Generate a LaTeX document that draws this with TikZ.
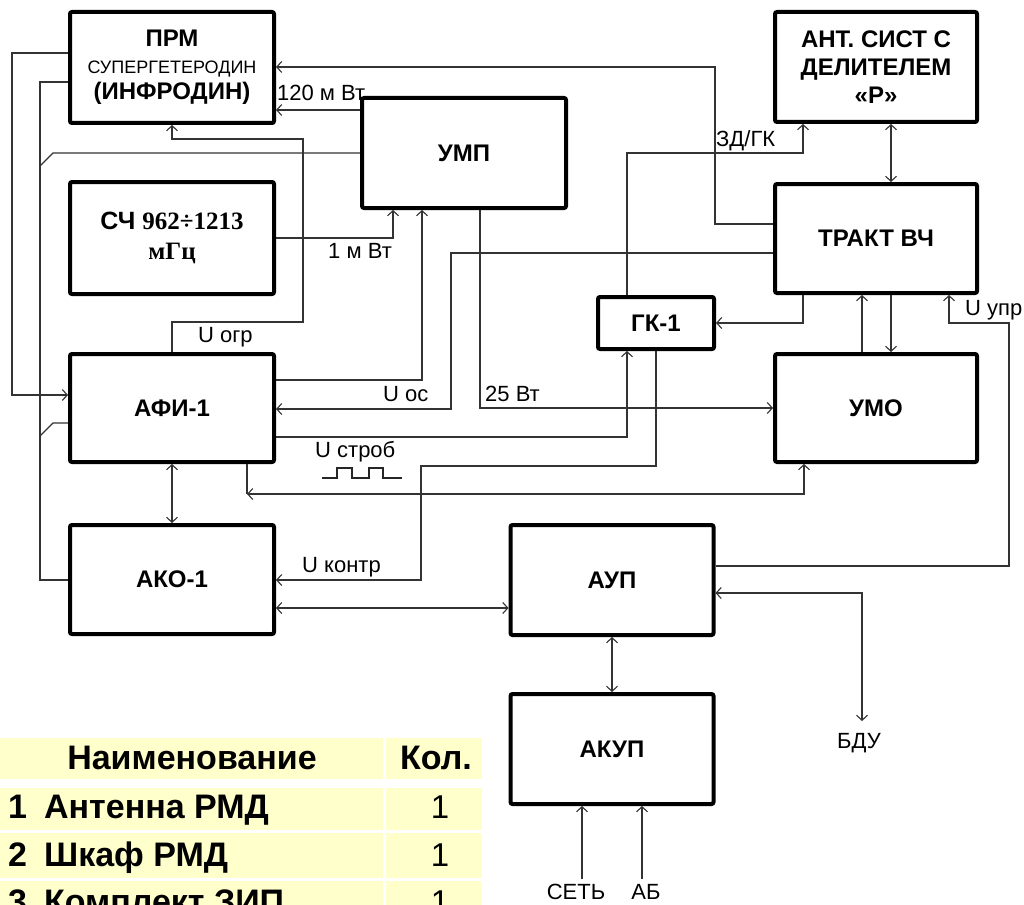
\documentclass[tikz,border=0pt]{standalone}
\usepackage{fontspec}
\setmainfont{Liberation Sans}
\newfontfamily\timesf{Liberation Serif}
\usetikzlibrary{arrows.meta}
\definecolor{tabfill}{HTML}{FFFFCC}

\begin{document}
\begin{tikzpicture}[
  x=1pt, y=-1pt,
  blk/.style={draw, line width=4pt, rounded corners=2pt, minimum width=204pt, minimum height=110pt, align=center, font=\bfseries\fontsize{24}{28}\selectfont},
  ln/.style={draw=black!80, line width=1.1pt},
  arr/.style={ln, -{Straight Barb[length=5pt,width=11pt]}},
  biarr/.style={ln, {Straight Barb[length=5pt,width=11pt]}-{Straight Barb[length=5pt,width=11pt]}},
  lbl/.style={font=\fontsize{22}{24}\selectfont, inner sep=0pt, anchor=base west},
  tabcell/.style={fill=tabfill, inner sep=0pt, anchor=north west},
  tabtxt/.style={font=\bfseries\fontsize{34}{34}\selectfont, inner sep=0pt, anchor=base west}
]
\useasboundingbox (0,0) rectangle (1024,904);
\clip (0,0) rectangle (1024,904);
\fill[white] (0,0) rectangle (1024,904);

% blocks
\node[blk, minimum height=111pt, font=\bfseries\fontsize{24}{26.5}\selectfont] (prm) at (172,67.5)
  {ПРМ\\{\mdseries\fontsize{18}{26.5}\selectfont СУПЕРГЕТЕРОДИН}\\(ИНФРОДИН)};
\node[blk, minimum height=112pt, font=\bfseries\fontsize{25}{30}\selectfont] (sch) at (172,238)
  {СЧ {\timesf 962÷1213}\\{\timesf мГц}};
\node[blk] (ump) at (464,153) {УМП};
\node[blk, minimum width=202pt] (ant) at (876,67) {АНТ. СИСТ С\\ДЕЛИТЕЛЕМ\\«Р»};
\node[blk, minimum width=202pt, minimum height=109pt] (trakt) at (876,238.5) {ТРАКТ ВЧ};
\node[blk, minimum width=116pt, minimum height=52pt] (gk) at (656,323) {ГК-1};
\node[blk, minimum height=108pt] (afi) at (172,408) {АФИ-1};
\node[blk, minimum width=202pt, minimum height=108pt] (umo) at (876,408) {УМО};
\node[blk, minimum height=109pt] (ako) at (172,579.5) {АКО-1};
\node[blk, minimum width=203pt] (aup) at (612,580) {АУП};
\node[blk, minimum width=203pt] (akup) at (612,749) {АКУП};

% connectors on the left
\draw[arr] (prm.west |- 0,53) -| (12,395) -- (afi.west |- 0,395);
\draw[ln] (prm.west |- 0,82) -| (40,580) -- (ako.west |- 0,580);
\draw[ln] (ump.west |- 0,153) -- (53,153) -- (40,166);
\draw[ln] (afi.west |- 0,423) -- (53,423) -- (40,436);
\draw[arr] (trakt.west |- 0,224) -| (715,67) -- (prm.east |- 0,67);
\draw[arr] (ump.west |- 0,110) -- (prm.east |- 0,110);
\draw[arr] (afi.north) |- (303,322) |- (172,139) -- (prm.south);
\draw[arr] (sch.east |- 0,238) -| (ump.south -| 393,0);
\draw[arr] (afi.east |- 0,380) -| (ump.south -| 422,0);
\draw[arr] (trakt.west |- 0,253) -| (451,409) -- (afi.east |- 0,409);
\draw[arr] (ump.south -| 480,0) |- (umo.west |- 0,408);
\draw[arr] (afi.east |- 0,437) -| (gk.south -| 627,0);
\draw[arr] (gk.south -| 656,0) |- (421,466) |- (ako.east |- 0,580);
\draw[ln] (afi.south -| 247,0) -- (247,494);
\draw[biarr] (247,494) -| (umo.south -| 804,0);
\draw[biarr] (afi.south) -- (ako.north);
\draw[biarr] (ako.east |- 0,608) -- (aup.west |- 0,608);

% connectors on the right
\draw[arr] (trakt.south -| 803,0) |- (gk.east |- 0,323);
\draw[arr] (gk.north -| 627,0) |- (803,153) -- (ant.south -| 803,0);
\draw[biarr] (ant.south -| 891,0) -- (trakt.north -| 891,0);
\draw[arr] (umo.north -| 862,0) -- (trakt.south -| 862,0);
\draw[arr] (trakt.south -| 891,0) -- (umo.north -| 891,0);
\draw[arr] (aup.east |- 0,566) -| (1009,323) -| (trakt.south -| 949,0);
\coordinate (bdu) at (862,721);
\draw[biarr] (aup.east |- 0,593) -| (bdu);
\draw[biarr] (aup.south) -- (akup.north);
\coordinate (set) at (582,879);
\coordinate (ab) at (642,879);
\draw[arr] (set) -- (akup.south -| set);
\draw[arr] (ab) -- (akup.south -| ab);

% labels
\node[lbl] (l120) at (277,101) {120 м Вт};
\node[lbl] (l1) at (328,258) {1 м Вт};
\node[lbl] (logr) at (198,342) {U огр};
\node[lbl] (los) at (383,401) {U ос};
\node[lbl] (l25) at (485,401) {25 Вт};
\node[lbl] (lstr) at (315,457) {U строб};
\node[lbl] (lkontr) at (302,572) {U контр};
\node[lbl] (lzd) at (716,147) {ЗД/ГК};
\node[lbl] (lupr) at (965,315) {U упр};
\node[lbl, anchor=base] (lbdu) at (859,748) {БДУ};
\node[lbl, anchor=base] (lset) at (576,899) {СЕТЬ};
\node[lbl, anchor=base] (lab) at (646,899) {АБ};
% strobe pulses
\draw[black!85, line width=2pt] (322,478) -- (337,478) -- (337,468) -- (352,468) -- (352,478)
  -- (369,478) -- (369,468) -- (383,468) -- (383,478) -- (402,478);

% table
\node[tabcell, minimum width=383pt, minimum height=41pt] (th1) at (0,738) {};
\node[tabcell, minimum width=96pt, minimum height=41pt] (th2) at (386,738) {};
\foreach \r/\y/\h in {1/788/42, 2/833/45, 3/881/45}{
  \node[tabcell, minimum width=383pt, minimum height=\h pt] (c\r a) at (0,\y) {};
  \node[tabcell, minimum width=96pt, minimum height=\h pt] (c\r b) at (386,\y) {};
}
\node[tabtxt, anchor=base] (tname) at (192,769) {Наименование};
\node[tabtxt, anchor=base] (tqty) at (436,769) {Кол.};
\foreach \n/\txt/\yb in {1/Антенна РМД/818, 2/Шкаф РМД/866, 3/Комплект ЗИП/913}{
  \node[tabtxt] (r\n) at (8,\yb) {\n\hspace{17pt}\txt};
  \node[tabtxt, anchor=base, font=\fontsize{33}{33}\selectfont] (q\n) at (440,\yb) {1};
}
\end{tikzpicture}
\end{document}
